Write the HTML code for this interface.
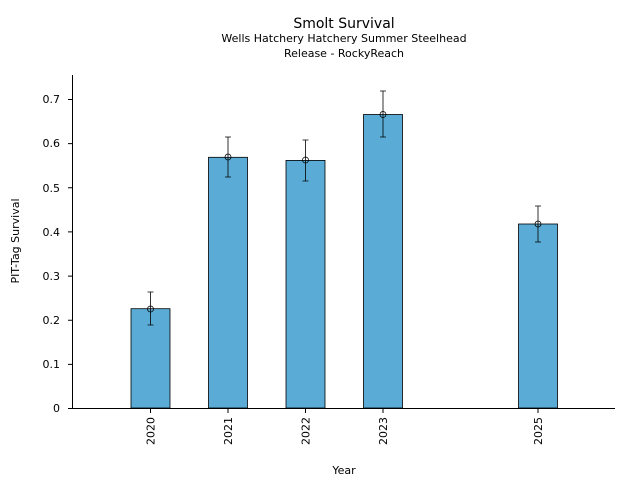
<!DOCTYPE html>
<html><head><meta charset="utf-8"><style>
html,body{margin:0;padding:0;background:#fff;}
svg{display:block;font-family:"DejaVu Sans","Liberation Sans",sans-serif;}
</style></head><body>
<svg width="640" height="480" viewBox="0 0 640 480" xmlns="http://www.w3.org/2000/svg">
<rect width="640" height="480" fill="#fff"/>
<text x="344" y="28" font-size="14" text-anchor="middle">Smolt Survival</text>
<text x="344" y="42" font-size="11" text-anchor="middle">Wells Hatchery Hatchery Summer Steelhead</text>
<text x="344" y="57" font-size="11" text-anchor="middle">Release - RockyReach</text>
<g fill="#5aacd6" stroke="#000" stroke-width="0.8">
<rect x="131" y="308.7" width="39" height="99.3"/>
<rect x="208.5" y="157.3" width="39" height="250.7"/>
<rect x="286" y="160.4" width="39" height="247.6"/>
<rect x="363.5" y="114.5" width="39" height="293.5"/>
<rect x="518.5" y="224" width="39" height="184"/>
</g>
<g stroke="#000" stroke-width="0.8" fill="none">
<path d="M150.5 292v33M147.5 292h6M147.5 325h6"/>
<path d="M228 137v40M225 137h6M225 177h6"/>
<path d="M305.5 140v41M302.5 140h6M302.5 181h6"/>
<path d="M383 91v46M380 91h6M380 137h6"/>
<path d="M538 206v36M535 206h6M535 242h6"/>
<circle cx="150.5" cy="309" r="3"/>
<circle cx="228" cy="157" r="3"/>
<circle cx="305.5" cy="160" r="3"/>
<circle cx="383" cy="114.5" r="3"/>
<circle cx="538" cy="224" r="3"/>
</g>
<path d="M72.5 75v333.5H615" stroke="#000" stroke-width="1" fill="none"/>
<g stroke="#000" stroke-width="1">
<path d="M68 408.5h4.5M68 364.4h4.5M68 320.2h4.5M68 276.1h4.5M68 231.9h4.5M68 187.8h4.5M68 143.6h4.5M68 99.5h4.5"/>
<path d="M150.5 408v5M228 408v5M305.5 408v5M383 408v5M538 408v5"/>
</g>
<g font-size="11" text-anchor="end">
<text x="60" y="412">0</text>
<text x="60" y="368">0.1</text>
<text x="60" y="324">0.2</text>
<text x="60" y="280">0.3</text>
<text x="60" y="236">0.4</text>
<text x="60" y="192">0.5</text>
<text x="60" y="147">0.6</text>
<text x="60" y="103">0.7</text>
</g>
<g font-size="11" text-anchor="end">
<text transform="translate(154.5,417) rotate(-90)">2020</text>
<text transform="translate(232,417) rotate(-90)">2021</text>
<text transform="translate(309.5,417) rotate(-90)">2022</text>
<text transform="translate(387,417) rotate(-90)">2023</text>
<text transform="translate(542,417) rotate(-90)">2025</text>
</g>
<text x="344" y="474" font-size="11" text-anchor="middle">Year</text>
<text transform="translate(19,241) rotate(-90)" font-size="11" text-anchor="middle">PIT-Tag Survival</text>
</svg>
</body></html>
